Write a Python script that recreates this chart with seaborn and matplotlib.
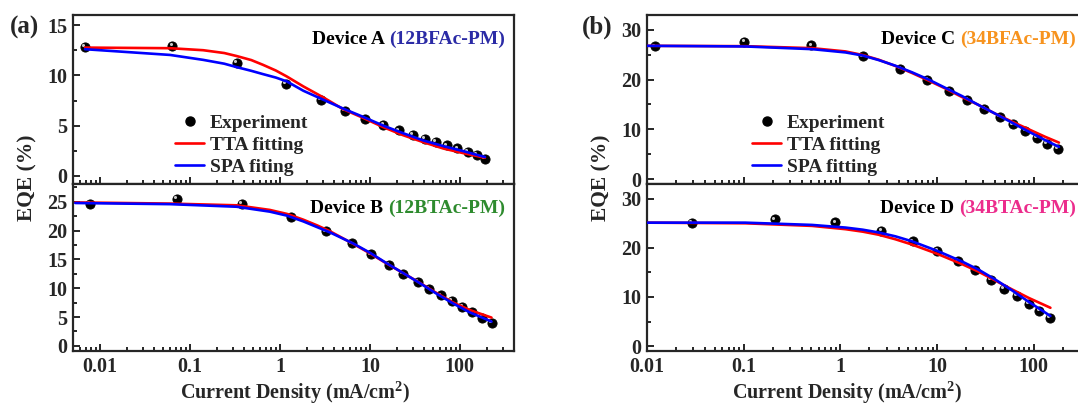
import numpy as np
import matplotlib
matplotlib.use('Agg')
import matplotlib.pyplot as plt
import matplotlib.ticker as mticker
import matplotlib.transforms as transforms
from matplotlib.lines import Line2D
import seaborn as sns

# ---- data (J in mA/cm2, EQE in %) ----
A_J = [0.0068, 0.0637, 0.330, 1.167, 2.86, 5.32, 8.87, 14.1, 21.2, 29.8, 40.5, 54, 72, 94, 122, 156, 190]
A_EQE = [12.86, 12.96, 11.27, 9.16, 7.52, 6.43, 5.64, 5.04, 4.52, 4.05, 3.66, 3.36, 3.03, 2.73, 2.41, 2.08, 1.71]
A_FIT_J = [0.0068, 0.060, 0.14, 0.24, 0.33, 0.48, 0.65, 0.9, 1.19, 1.82, 3.03, 5.06, 8.43, 14.1, 23.4, 39.2, 65.3, 109, 190]
A_TTA = [12.76, 12.70, 12.50, 12.22, 11.92, 11.52, 11.04, 10.48, 9.89, 8.90, 7.81, 6.63, 5.77, 4.85, 4.05, 3.36, 2.73, 2.27, 1.81]
A_SPA = [12.60, 12.03, 11.54, 11.16, 10.82, 10.45, 10.12, 9.78, 9.40, 8.47, 7.58, 6.69, 5.87, 5.00, 4.25, 3.53, 2.97, 2.47, 1.88]

B_J = [0.0077, 0.072, 0.375, 1.32, 3.24, 6.25, 10.3, 16.1, 23.4, 33.9, 45.6, 61, 82, 107, 138, 177, 225]
B_EQE = [24.7, 25.57, 24.7, 22.44, 19.87, 17.77, 15.89, 14.07, 12.47, 11.16, 9.91, 8.77, 7.80, 6.78, 5.81, 4.90, 4.04]
B_FIT_J = [0.0053, 0.060, 0.33, 0.77, 1.2, 1.82, 2.6, 3.59, 6.53, 10.0, 15.3, 23.4, 35.9, 55.1, 84.3, 129, 225]
B_TTA = [24.9, 24.7, 24.4, 23.6, 22.9, 21.9, 20.9, 19.9, 17.7, 16.06, 14.3, 12.64, 10.93, 9.17, 7.52, 6.21, 4.9]
B_SPA = [24.8, 24.6, 24.15, 23.3, 22.6, 21.6, 20.6, 19.7, 17.77, 16.17, 14.35, 12.64, 10.88, 9.05, 7.35, 5.81, 4.21]

C_J = [0.012, 0.1016, 0.501, 1.70, 4.18, 7.94, 13.4, 20.6, 30.9, 44.5, 61.1, 82, 107, 137, 179]
C_EQE = [26.67, 27.53, 26.87, 24.67, 22.2, 19.93, 17.8, 15.93, 14.13, 12.53, 11.0, 9.67, 8.33, 7.13, 6.0]
C_FIT_J = [0.01, 0.104, 0.509, 1.13, 1.7, 2.49, 3.7, 5.51, 8.2, 12.2, 18.2, 27.0, 40.1, 59.7, 88.8, 132, 182]
C_TTA = [26.8, 26.73, 26.33, 25.67, 24.95, 24.0, 22.75, 21.33, 19.8, 18.2, 16.47, 14.87, 13.13, 11.53, 10.0, 8.47, 7.33]
C_SPA = [26.8, 26.67, 26.13, 25.47, 24.85, 23.93, 22.8, 21.47, 20.0, 18.33, 16.67, 14.87, 13.13, 11.33, 9.53, 7.8, 6.47]

D_J = [0.0292, 0.209, 0.887, 2.65, 5.65, 10.07, 16.4, 24.5, 36.2, 49.3, 67.3, 88.8, 114.5, 146.5]
D_EQE = [25.0, 25.8, 25.2, 23.47, 21.33, 19.33, 17.33, 15.47, 13.53, 11.67, 10.2, 8.53, 7.13, 5.8]
D_FIT_J = [0.01, 0.104, 0.509, 1.13, 1.7, 2.49, 3.7, 5.51, 10.0, 18.2, 27.0, 40.1, 59.7, 88.8, 148.6]
D_TTA = [25.13, 25.0, 24.47, 23.8, 23.3, 22.67, 21.75, 20.67, 18.8, 16.67, 15.13, 13.33, 11.53, 9.8, 7.8]
D_SPA = [25.13, 25.13, 24.67, 24.13, 23.7, 23.13, 22.35, 21.33, 19.4, 17.2, 15.53, 13.53, 11.33, 9.0, 6.13]

DEVICES = ['Device A ', 'Device B ', 'Device C ', 'Device D ']
MATERIALS = ['(12BFAc-PM)', '(12BTAc-PM)', '(34BFAc-PM)', '(34BTAc-PM)']
MAT_COLORS = ['#2b2ba6', '#2e8b2e', '#f7931e', '#ec2c8c']
SPA_LABELS = ['SPA fiting', 'SPA fitting']

TTA_COLOR = '#ff0000'
SPA_COLOR = '#0000ff'

sns.set_style('ticks')
plt.rcParams['font.family'] = ['Liberation Serif', 'DejaVu Serif']
plt.rcParams['font.weight'] = 'bold'
plt.rcParams['axes.labelweight'] = 'bold'
plt.rcParams['mathtext.fontset'] = 'custom'
plt.rcParams['mathtext.rm'] = 'Liberation Serif:bold'
plt.rcParams['mathtext.bf'] = 'Liberation Serif:bold'
plt.rcParams['axes.linewidth'] = 1.6

FS = 14
TICK_FS = 14.5

fig = plt.figure(figsize=(10.78, 4.08), dpi=100)
W, H = 1078.0, 408.0


def make_ax(x0, x1, y0, y1):
    return fig.add_axes([x0 / W, 1 - y1 / H, (x1 - x0) / W, (y1 - y0) / H])


def draw_panel(ax, J, E, fj, tta, spa, xlim, ylim, ymaj, ymin, idx, bottom, txt_right):
    sns.scatterplot(x=J, y=E, ax=ax, color='black', s=44, edgecolor='black',
                    linewidth=0.6, zorder=2, legend=False)
    off = transforms.ScaledTranslation(-1.3 / 72, 1.3 / 72, fig.dpi_scale_trans)
    ax.scatter(J, E, s=5, color='#c8c8c8', zorder=2.5, transform=ax.transData + off,
               linewidths=0)
    sns.lineplot(x=fj, y=tta, ax=ax, color=TTA_COLOR, lw=1.9, estimator=None,
                 sort=False, zorder=3, legend=False)
    sns.lineplot(x=fj, y=spa, ax=ax, color=SPA_COLOR, lw=1.9, estimator=None,
                 sort=False, zorder=4, legend=False)
    ax.set_xscale('log')
    ax.set_xlim(xlim)
    ax.set_ylim(ylim)
    ax.yaxis.set_major_locator(mticker.MultipleLocator(ymaj))
    ax.yaxis.set_minor_locator(mticker.MultipleLocator(ymin))
    ax.xaxis.set_major_locator(mticker.LogLocator(base=10, numticks=20))
    ax.xaxis.set_minor_locator(mticker.LogLocator(base=10, subs=np.arange(2, 10), numticks=20))
    ax.xaxis.set_major_formatter(mticker.FuncFormatter(lambda v, p: f'{v:g}'))
    ax.xaxis.set_minor_formatter(mticker.NullFormatter())
    ax.tick_params(which='both', direction='in', top=False, right=False, labelsize=TICK_FS,
                   width=1.4)
    ax.tick_params(which='major', length=5)
    ax.tick_params(which='minor', length=3)
    ax.tick_params(axis='x', labelbottom=bottom, pad=4)
    ax.tick_params(axis='y', pad=4)
    ax.set_xlabel('')
    ax.set_ylabel('')
    for lab in ax.get_xticklabels() + ax.get_yticklabels():
        lab.set_fontweight('bold')
    t = ax.text(txt_right, 0.855, MATERIALS[idx], transform=ax.transAxes,
                ha='right', va='center', fontsize=FS, fontweight='bold',
                color=MAT_COLORS[idx])
    ax.annotate(DEVICES[idx], xy=(0, 0), xycoords=t, ha='right', va='bottom',
                fontsize=FS, fontweight='bold', color='black')


def add_legend(ax, spa_label, anchor):
    handles = [Line2D([0], [0], marker='o', color='black', ls='none', markersize=6.5),
               Line2D([0], [0], color=TTA_COLOR, lw=1.9),
               Line2D([0], [0], color=SPA_COLOR, lw=1.9)]
    ax.legend(handles, ['Experiment', 'TTA fitting', spa_label], loc='upper left',
              bbox_to_anchor=anchor, frameon=False, fontsize=FS, handlelength=1.5,
              handletextpad=0.3, labelspacing=0.23, borderpad=0.0, borderaxespad=0)


# left column
axA = make_ax(73, 514, 15, 184)
axB = make_ax(73, 514, 184, 351)
draw_panel(axA, A_J, A_EQE, A_FIT_J, A_TTA, A_SPA, (0.005, 400), (-0.8, 16), 5, 2.5, 0, False,
           1 - 9 / 441)
draw_panel(axB, B_J, B_EQE, B_FIT_J, B_TTA, B_SPA, (0.005, 400), (-0.9, 28.1), 5, 2.5, 1, True,
           1 - 9 / 441)
add_legend(axA, SPA_LABELS[0], ((175 - 73) / 441, 1 - (114 - 15) / 169))

# right column
axC = make_ax(647, 1092, 15, 184)
axD = make_ax(647, 1092, 184, 351)
draw_panel(axC, C_J, C_EQE, C_FIT_J, C_TTA, C_SPA, (0.01, 400), (-1, 33), 10, 5, 2, False,
           1 - 16 / 445)
draw_panel(axD, D_J, D_EQE, D_FIT_J, D_TTA, D_SPA, (0.01, 400), (-1, 33), 10, 5, 3, True,
           1 - 16 / 445)
add_legend(axC, SPA_LABELS[1], ((752 - 647) / 445, 1 - (114 - 15) / 169))

# labels
fig.text(10 / W, 1 - 27 / H, '(a)', fontsize=18, fontweight='bold', ha='left', va='center')
fig.text(582 / W, 1 - 27 / H, '(b)', fontsize=18, fontweight='bold', ha='left', va='center')
fig.text(27 / W, 1 - 178 / H, 'EQE (%)', fontsize=15.5, fontweight='bold', rotation=90,
         ha='center', va='center')
fig.text(601 / W, 1 - 178 / H, 'EQE (%)', fontsize=15.5, fontweight='bold', rotation=90,
         ha='center', va='center')
xlab = r'Current Density (mA/cm$^{\mathbf{2}}$)'
fig.text(295 / W, 2 / H, xlab, fontsize=14.5, fontweight='bold', ha='center', va='bottom')
fig.text(847 / W, 2 / H, xlab, fontsize=14.5, fontweight='bold', ha='center', va='bottom')

fig.savefig('out.png', dpi=100)
